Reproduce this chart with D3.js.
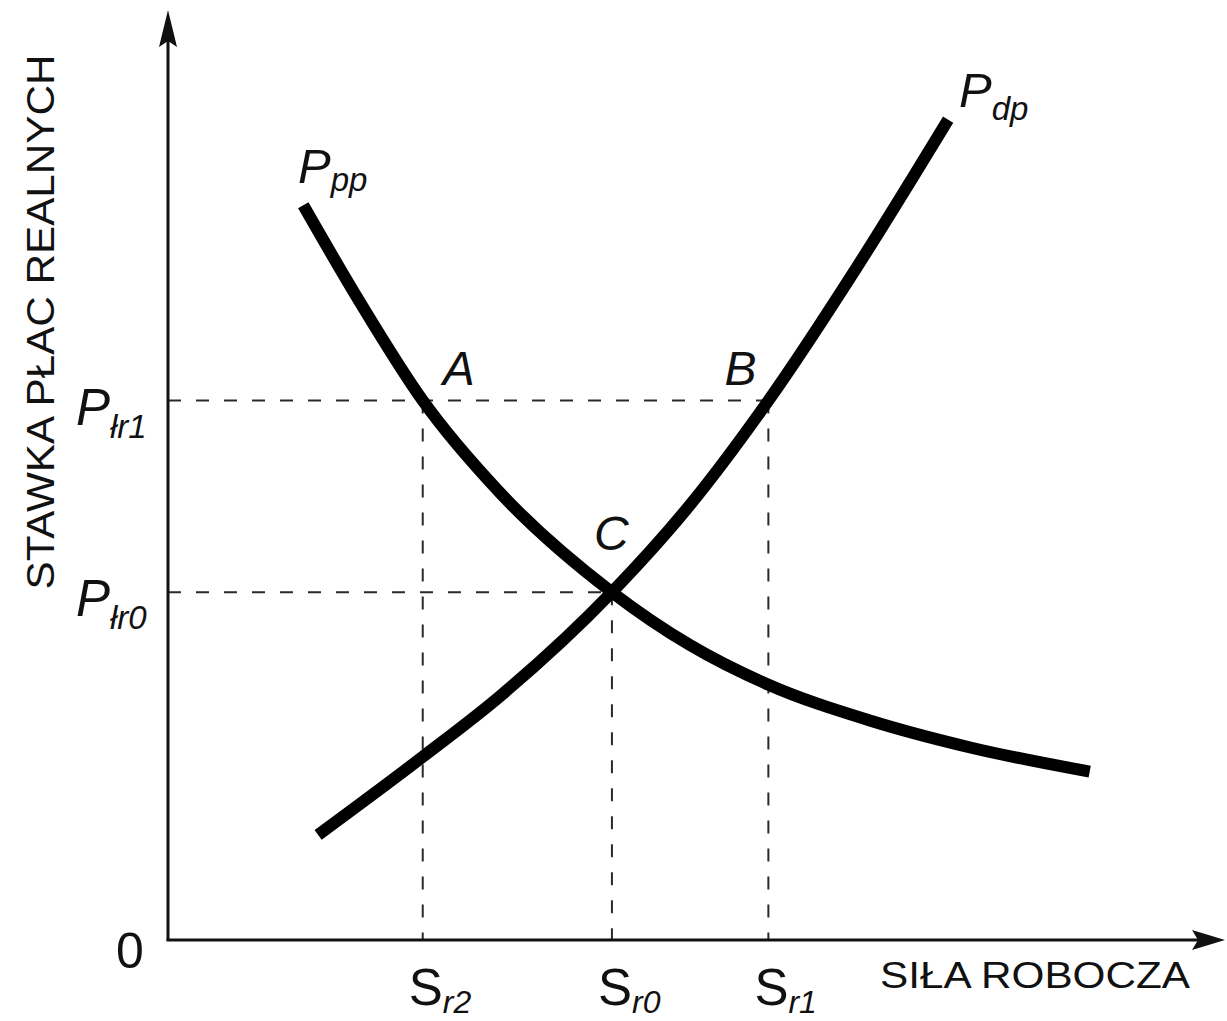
<!DOCTYPE html>
<html>
<head>
<meta charset="utf-8" />
<title>Rynek pracy</title>
<style>
  body { margin: 0; background: #fff; }
  text { font-family: "Liberation Sans", Arial, sans-serif; fill: #111; }
</style>
</head>
<body>
<svg id="chart"></svg>
<script src="https://d3js.org/d3.v7.min.js"></script>
<script>
var width = 1227, height = 1021;

// demand curve (P pp) and supply curve (P dp), [labour, wage]
var ppp = [[1.28, 7.90], [1.82, 6.85], [2.41, 5.80], [3.14, 4.81], [4.20, 3.74],
           [4.94, 3.17], [5.67, 2.75], [6.64, 2.36], [7.59, 2.07], [8.72, 1.81]];
var pdp = [[1.42, 1.13], [2.41, 1.97], [3.14, 2.62], [4.20, 3.74], [4.94, 4.68],
           [5.68, 5.80], [6.52, 7.24], [7.38, 8.82]];

// wage levels and labour levels
var wageNames = ["łr1", "łr0"];
var wageValues = [5.80, 3.74];
var labourNames = ["r2", "r0", "r1"];
var labourValues = [2.41, 4.20, 5.68];
var labourWage = [5.80, 3.74, 5.80]; // where each vertical guide stops

var points = [{ name: "A", x: 2.41, y: 5.80 }, { name: "B", x: 5.68, y: 5.80 }, { name: "C", x: 4.20, y: 3.74 }];

var x = d3.scaleLinear().domain([0, 10]).range([168, 1225]);
var y = d3.scaleLinear().domain([0, 10]).range([940, 10]);

var svg = d3.select("#chart").attr("width", width).attr("height", height);

// dashed guides
var guides = svg.append("g")
  .attr("stroke", "#2a2a2a")
  .attr("stroke-width", 2)
  .attr("stroke-dasharray", "13,15");

wageValues.forEach(function(w, i) {
  var stopX = i == 0 ? labourValues[2] : labourValues[1];
  guides.append("line")
    .attr("x1", x(0)).attr("x2", x(stopX))
    .attr("y1", y(w)).attr("y2", y(w));
});
labourValues.forEach(function(s, i) {
  guides.append("line")
    .attr("x1", x(s)).attr("x2", x(s))
    .attr("y1", y(labourWage[i])).attr("y2", y(0));
});

// curves
var line = d3.line()
  .x(function(d) { return x(d[0]); })
  .y(function(d) { return y(d[1]); })
  .curve(d3.curveMonotoneX);

[ppp, pdp].forEach(function(c) {
  svg.append("path")
    .attr("d", line(c))
    .attr("fill", "none")
    .attr("stroke", "#000")
    .attr("stroke-width", 12);
});

// axes with arrows
svg.append("line")
  .attr("x1", x(0)).attr("y1", y(0))
  .attr("x2", x(0)).attr("y2", y(10) + 20)
  .attr("stroke", "#111").attr("stroke-width", 3);
svg.append("line")
  .attr("x1", x(0) - 1.5).attr("y1", y(0))
  .attr("x2", x(10) - 20).attr("y2", y(0))
  .attr("stroke", "#111").attr("stroke-width", 3);

var ax = x(0), ay = y(10);
svg.append("path")
  .attr("d", "M" + ax + "," + ay + " L" + (ax + 9) + "," + (ay + 37) + " L" + ax + "," + (ay + 31) + " L" + (ax - 9) + "," + (ay + 37) + "Z")
  .attr("fill", "#111");
var bx = x(10), by = y(0);
svg.append("path")
  .attr("d", "M" + bx + "," + by + " L" + (bx - 33) + "," + (by + 10) + " L" + (bx - 27) + "," + by + " L" + (bx - 33) + "," + (by - 10) + "Z")
  .attr("fill", "#111");

// axis titles
svg.append("text")
  .attr("transform", "translate(" + 54 + "," + 322 + ") rotate(-90)")
  .attr("text-anchor", "middle")
  .attr("textLength", 535)
  .attr("lengthAdjust", "spacingAndGlyphs")
  .style("font-size", "38px")
  .text("STAWKA PŁAC REALNYCH");

svg.append("text")
  .attr("x", 880).attr("y", 988)
  .attr("textLength", 310)
  .attr("lengthAdjust", "spacingAndGlyphs")
  .style("font-size", "37px")
  .text("SIŁA ROBOCZA");

svg.append("text")
  .attr("x", 130).attr("y", 968)
  .attr("text-anchor", "middle")
  .style("font-size", "50px")
  .text("0");

// label with subscript
function subLabel(g, px, py, main, sub, italicMain, size, subSize, drop) {
  var t = g.append("text")
    .attr("x", px).attr("y", py)
    .style("font-size", size + "px");
  t.append("tspan")
    .style("font-style", italicMain ? "italic" : "normal")
    .text(main);
  t.append("tspan")
    .attr("dy", drop)
    .style("font-style", "italic")
    .style("font-size", subSize + "px")
    .text(sub);
  return t;
}

wageValues.forEach(function(w, i) {
  subLabel(svg, 76, y(w) + 24, "P", wageNames[i], true, 51, 33, 13);
});
labourValues.forEach(function(s, i) {
  subLabel(svg, x(s) - 14, 1005, "S", labourNames[i], false, 51, 32, 8);
});

subLabel(svg, 298, 183, "P", "pp", true, 49, 33, 8);
subLabel(svg, 959, 107, "P", "dp", true, 49, 33, 13);

// intersection letters
var offsets = { A: [20, -16], B: [-44, -16], C: [-18, -42] };
points.forEach(function(p) {
  svg.append("text")
    .attr("x", x(p.x) + offsets[p.name][0])
    .attr("y", y(p.y) + offsets[p.name][1])
    .style("font-size", "48px")
    .style("font-style", "italic")
    .text(p.name);
});
</script>
</body>
</html>
